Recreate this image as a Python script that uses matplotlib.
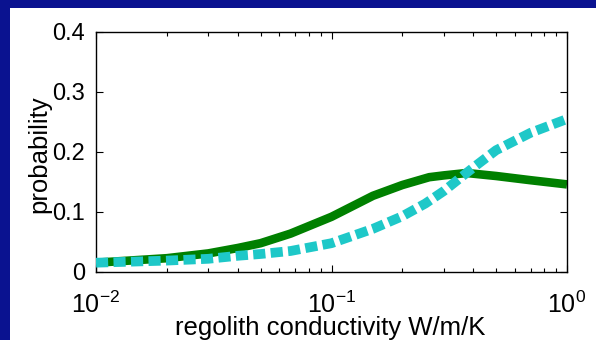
import matplotlib
matplotlib.use("Agg")
import matplotlib.pyplot as plt
from matplotlib.patches import Rectangle
from matplotlib.ticker import FixedLocator, LogLocator, NullFormatter

plt.rcParams['font.family'] = ['Liberation Sans', 'DejaVu Sans']
plt.rcParams['mathtext.fontset'] = 'custom'
plt.rcParams['mathtext.rm'] = 'Liberation Sans'

# regolith conductivity (W/m/K) and probability for the two distributions
k_green = [0.01, 0.02, 0.03, 0.04, 0.05, 0.067, 0.1, 0.15, 0.2, 0.26, 0.3, 0.375, 0.5, 0.7, 1.0]
p_green = [0.0155, 0.023, 0.031, 0.040, 0.048, 0.064, 0.092, 0.127, 0.145, 0.158, 0.161, 0.165, 0.160, 0.153, 0.146]

k_cyan = [0.01, 0.02, 0.03, 0.04, 0.05, 0.067, 0.1, 0.15, 0.2, 0.25, 0.3, 0.35, 0.4, 0.5, 0.7, 1.0]
p_cyan = [0.0155, 0.019, 0.022, 0.027, 0.030, 0.035, 0.048, 0.072, 0.093, 0.114, 0.135, 0.156, 0.174, 0.203, 0.232, 0.255]

y_ticks = [0, 0.1, 0.2, 0.3, 0.4]
y_ticklabels = ['0', '0.1', '0.2', '0.3', '0.4']
x_ticks = [0.01, 0.1, 1.0]
x_ticklabels = [r'$\mathregular{10^{-2}}$', r'$\mathregular{10^{-1}}$', r'$\mathregular{10^{0}}$']

W, H = 596, 340
fig = plt.figure(figsize=(W / 100, H / 100), dpi=100)
fig.patch.set_facecolor('#0a1290')
fig.patches.append(Rectangle((10 / W, 0), (W - 10) / W, (H - 8) / H,
                             transform=fig.transFigure, facecolor='white',
                             edgecolor='none', zorder=-10))

ax = fig.add_axes([96 / W, (H - 272) / H, (567 - 96) / W, (272 - 32) / H])
ax.set_zorder(1)
ax.set_facecolor('white')

ax.plot(k_green, p_green, color='#008000', lw=6.2, solid_capstyle='butt', zorder=2)
ax.plot(k_cyan, p_cyan, color='#1ec8c8', lw=7.0, linestyle=(0, (1.25, 0.55)),
        dash_capstyle='butt', zorder=3)

ax.set_xscale('log')
ax.set_xlim(0.01, 1.0)
ax.set_ylim(0, 0.4)

ax.xaxis.set_major_locator(FixedLocator(x_ticks))
ax.set_xticklabels(x_ticklabels)
ax.xaxis.set_minor_locator(LogLocator(base=10, subs=range(2, 10)))
ax.xaxis.set_minor_formatter(NullFormatter())
ax.set_yticks(y_ticks)
ax.set_yticklabels(y_ticklabels)

ax.tick_params(which='both', direction='in', top=True, right=True, color='black', width=0.8)
ax.tick_params(which='major', length=5)
ax.tick_params(which='minor', length=3)
ax.tick_params(axis='y', labelsize=17, pad=8)
ax.tick_params(axis='x', labelsize=18, pad=14)
for s in ax.spines.values():
    s.set_linewidth(1.0)
    s.set_color('black')

fig.text(39 / W, 1 - 154 / H, 'probability', rotation=90, ha='center', va='center', fontsize=18.5)
fig.text(330 / W, (H - 335) / H, 'regolith conductivity W/m/K', ha='center', va='baseline', fontsize=18.5)

fig.savefig('out.png', dpi=100, facecolor=fig.get_facecolor())
